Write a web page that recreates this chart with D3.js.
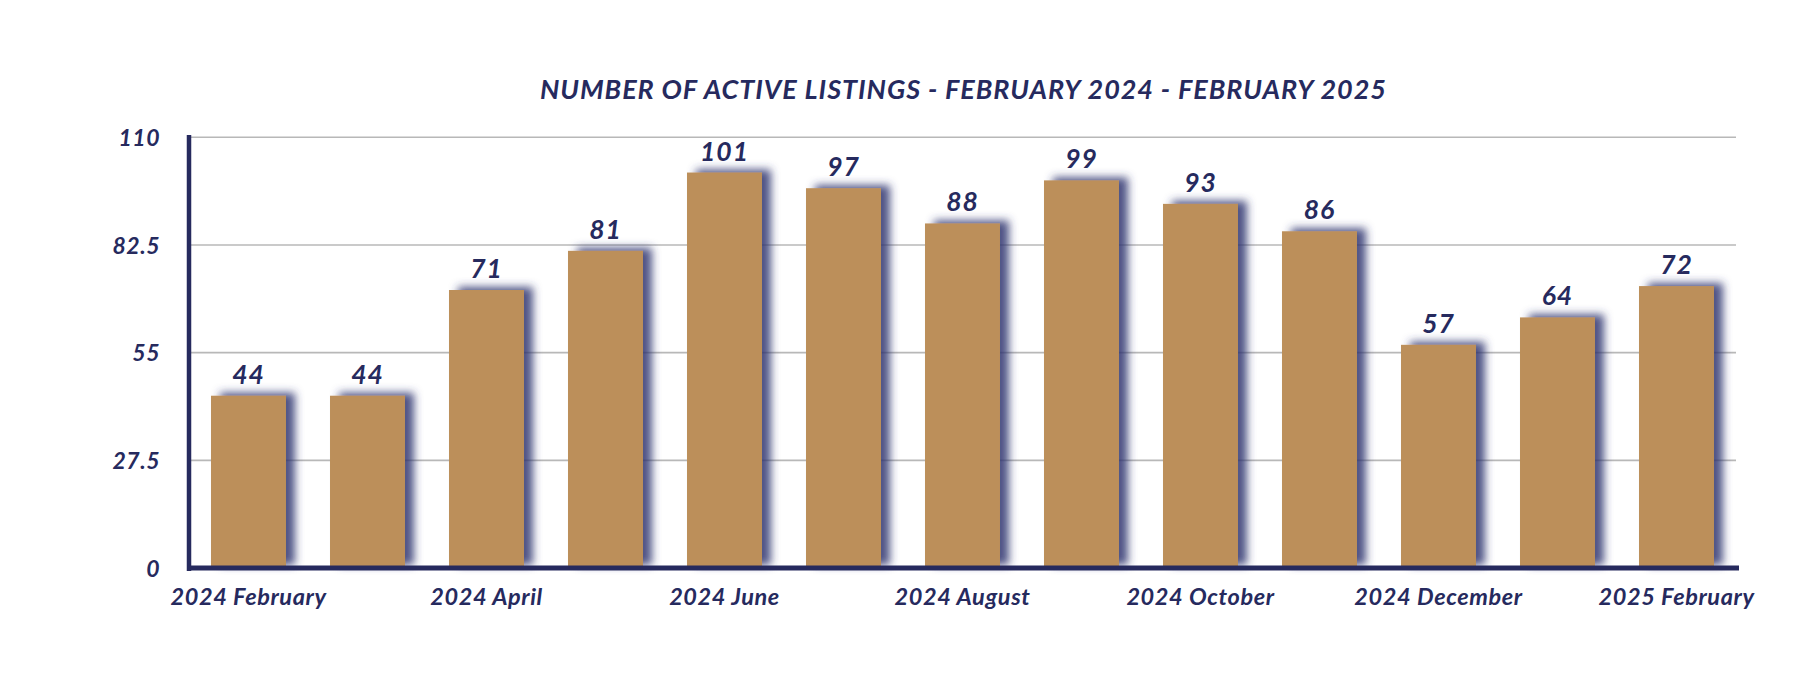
<!DOCTYPE html>
<html>
<head>
<meta charset="utf-8">
<script src="https://cdn.jsdelivr.net/npm/d3@7"></script>
<style>
  html, body { margin: 0; padding: 0; background: #ffffff; }
  svg { display: block; }
  text { font-family: Lato, "Open Sans", sans-serif; font-weight: 700; font-style: italic; fill: #262a5e; }
</style>
</head>
<body>
<script>
// ---- data ----
const categories = ["2024 February","2024 March","2024 April","2024 May","2024 June","2024 July",
  "2024 August","2024 September","2024 October","2024 November","2024 December","2025 January","2025 February"];
const values = [44, 44, 71, 81, 101, 97, 88, 99, 93, 86, 57, 64, 72];
const yTicks = [0, 27.5, 55, 82.5, 110];
const xTickLabels = ["2024 February","2024 April","2024 June","2024 August","2024 October","2024 December","2025 February"];
const title = "NUMBER OF ACTIVE LISTINGS - FEBRUARY 2024 - FEBRUARY 2025";

const W = 1816, H = 676;
const navy = "#262a5e", gold = "#bc8f5a", grid = "#b8b8b8";

const svg = d3.select("body").append("svg").attr("width", W).attr("height", H);

const defs = svg.append("defs");
const f = defs.append("filter").attr("id", "shadow")
  .attr("x", "-30%").attr("y", "-20%").attr("width", "160%").attr("height", "140%");
f.append("feGaussianBlur").attr("in", "SourceAlpha").attr("stdDeviation", 4).attr("result", "b");
f.append("feOffset").attr("in", "b").attr("dx", 9).attr("dy", -3).attr("result", "o");
f.append("feFlood").attr("flood-color", "#2f3570").attr("flood-opacity", 0.85);
f.append("feComposite").attr("in2", "o").attr("operator", "in").attr("result", "s");
const m = f.append("feMerge");
m.append("feMergeNode").attr("in", "s");
m.append("feMergeNode").attr("in", "SourceGraphic");

const x = d3.scaleBand().domain(categories).range([189, 1736]).paddingInner(0.37).paddingOuter(0.185);
const y = d3.scaleLinear().domain([0, 110]).range([568, 137.3]);

// gridlines
svg.append("g").selectAll("line").data(yTicks.filter(d => d > 0)).join("line")
  .attr("x1", 189).attr("x2", 1736)
  .attr("y1", d => y(d)).attr("y2", d => y(d))
  .attr("stroke", grid).attr("stroke-width", 1.6);

// bars
svg.append("g").selectAll("rect").data(values).join("rect")
  .attr("x", (d, i) => x(categories[i]))
  .attr("width", x.bandwidth())
  .attr("y", d => y(d))
  .attr("height", d => y(0) - y(d))
  .attr("fill", gold)
  .attr("filter", "url(#shadow)");

// value labels
svg.append("g").selectAll("text").data(values).join("text")
  .attr("x", (d, i) => x(categories[i]) + x.bandwidth() / 2)
  .attr("y", d => y(d) - 12)
  .attr("text-anchor", "middle")
  .attr("font-size", 26.5)
  .attr("letter-spacing", 1)
  .text(d => d);

// y axis
const yAxis = d3.axisLeft(y).tickValues(yTicks).tickSize(0).tickPadding(29)
  .tickFormat(d => d3.format("~g")(d));
const gy = svg.append("g").attr("transform", "translate(189,0)").call(yAxis);
gy.select(".domain").remove();
gy.selectAll("text").attr("font-size", 23).attr("font-family", null).attr("fill", navy)
  .attr("letter-spacing", 0.5).attr("dy", "0.36em");
svg.append("line").attr("x1", 189).attr("x2", 189).attr("y1", 135).attr("y2", 571)
  .attr("stroke", navy).attr("stroke-width", 4.5);

// x axis
const xAxis = d3.axisBottom(x).tickValues(xTickLabels).tickSize(0).tickPadding(20);
const gx = svg.append("g").attr("transform", "translate(0,568)").call(xAxis);
gx.select(".domain").remove();
gx.selectAll("text").attr("font-size", 23.5).attr("font-family", null).attr("fill", navy)
  .attr("letter-spacing", 0.6);
svg.append("line").attr("x1", 187).attr("x2", 1739).attr("y1", 568).attr("y2", 568)
  .attr("stroke", navy).attr("stroke-width", 5);

// title
svg.append("text").attr("x", 963).attr("y", 99).attr("text-anchor", "middle")
  .attr("font-size", 27).attr("textLength", 846).attr("lengthAdjust", "spacing").text(title);
</script>
</body>
</html>
